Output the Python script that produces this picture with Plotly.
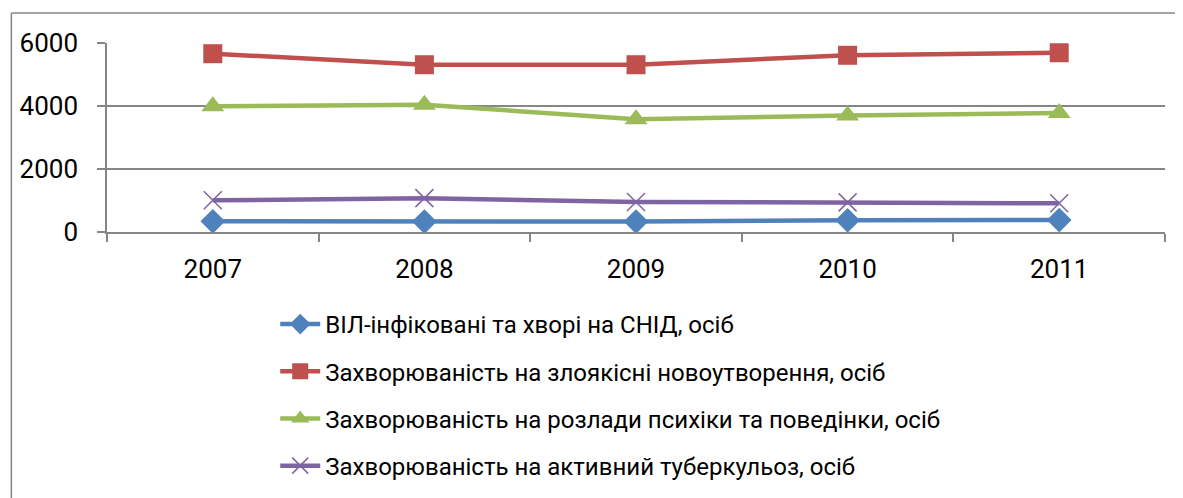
import plotly.graph_objects as go

years = ["2007", "2008", "2009", "2010", "2011"]
hiv = [340, 330, 330, 370, 380]
cancer = [5660, 5310, 5310, 5610, 5690]
mental = [3990, 4040, 3580, 3700, 3780]
tb = [1005, 1075, 955, 940, 910]

names = [
    "ВІЛ-інфіковані та хворі на СНІД, осіб",
    "Захворюваність на злоякісні новоутворення, осіб",
    "Захворюваність на розлади психіки та поведінки, осіб",
    "Захворюваність на активний туберкульоз, осіб",
]
colors = ["#4F81BD", "#C0504D", "#9BBB59", "#8064A2"]
symbols = ["diamond", "square", "triangle-up", "x-thin-open"]
sizes = [19, 19, 20, 18]
series = [hiv, cancer, mental, tb]

fig = go.Figure()
for i, (nm, vals) in enumerate(zip(names, series)):
    mk = dict(symbol=symbols[i], size=sizes[i], color=colors[i])
    if symbols[i] == "x-thin-open":
        mk["line"] = dict(color=colors[i], width=1.5)
    fig.add_trace(go.Scatter(
        x=years, y=vals, name=nm, mode="lines+markers",
        line=dict(color=colors[i], width=4.5),
        marker=mk, legendgroup=f"g{i}",
    ))

grid = "#868686"
bx0 = (7 - 103) / 1062
by1 = (232 - 13) / 189
fig.update_layout(
    width=1183, height=498,
    margin=dict(l=95, r=26, t=35, b=274),
    paper_bgcolor="white", plot_bgcolor="white",
    font=dict(family="Roboto, 'Noto Sans', sans-serif", size=22, color="black"),
    showlegend=True,
    legend=dict(
        x=0.159, y=-0.37, xanchor="left", yanchor="top",
        font=dict(size=24), tracegroupgap=13, itemwidth=40,
        bgcolor="rgba(0,0,0,0)",
    ),
    xaxis=dict(
        type="category", tickson="boundaries", ticks="outside", ticklen=8,
        tickcolor=grid, tickwidth=1.5, showline=True, linecolor=grid, linewidth=1.5,
        showgrid=False, tickfont=dict(size=26), ticklabelstandoff=13,
        range=[-0.5, 4.5],
    ),
    yaxis=dict(
        range=[0, 6000], tickvals=[0, 2000, 4000, 6000], ticks="outside", ticklen=8,
        tickcolor=grid, tickwidth=1.5, showline=True, linecolor=grid, linewidth=1.5,
        showgrid=True, gridcolor=grid, gridwidth=1.5, zeroline=False,
        tickfont=dict(size=26), ticklabelstandoff=14,
    ),
    shapes=[
        dict(type="line", xref="paper", yref="paper", x0=bx0, x1=bx0, y0=-2.0, y1=by1,
             line=dict(color=grid, width=1.5), layer="below"),
        dict(type="line", xref="paper", yref="paper", x0=bx0, x1=1.3, y0=by1, y1=by1,
             line=dict(color=grid, width=1.5), layer="below"),
    ],
)

fig.write_html("out.html")
